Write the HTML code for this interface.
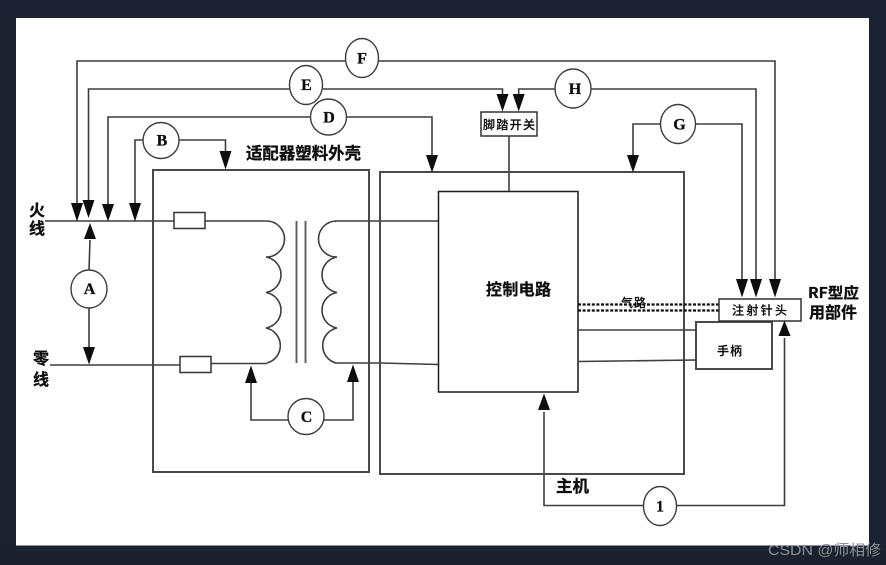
<!DOCTYPE html>
<html lang="zh">
<head>
<meta charset="utf-8">
<style>
html,body{margin:0;padding:0;width:886px;height:565px;overflow:hidden;background:#1b2232}
svg{display:block}
text{font-family:"Liberation Sans","Noto Sans CJK SC",sans-serif;fill:#111}
.c{font-family:"Noto Sans CJK SC","Liberation Sans",sans-serif;font-weight:700;stroke:#111;stroke-width:.3px}
.m{font-family:"Noto Sans CJK SC","Liberation Sans",sans-serif;font-weight:500;stroke:#111;stroke-width:.2px}
.l{font-family:"Liberation Serif",serif;font-weight:700;font-size:16px;text-anchor:middle;stroke:#111;stroke-width:.3px}
</style>
</head>
<body>
<svg width="886" height="565" viewBox="0 0 886 565" xmlns="http://www.w3.org/2000/svg">
<defs><filter id="b" filterUnits="userSpaceOnUse" x="0" y="0" width="886" height="565"><feGaussianBlur stdDeviation="0.35"/></filter></defs>
<rect x="0" y="0" width="886" height="565" fill="#1b2232"/>
<rect x="0" y="545" width="886" height="20" fill="#1b212e"/>
<rect x="16" y="18" width="853" height="527.5" fill="#fff"/>

<g filter="url(#b)">
<g fill="none" stroke="#3c3c3c" stroke-width="1.6">
  <!-- F -->
  <path d="M77 205V61H345M379 61H775V280"/>
  <!-- E / H -->
  <path d="M88.5 202V89H290M323 89H502.5V96"/>
  <path d="M518.7 96V89H555M590 89H756V280"/>
  <!-- D -->
  <path d="M108 206V117H310M346 117H432V157"/>
  <!-- B -->
  <path d="M135 205V140H143M179 140H225.5V153"/>
  <!-- G -->
  <path d="M633 157V124H660M696 124H742V280"/>
  <!-- I -->
  <path d="M544 412V505.5H643M677 505.5H784.5V338"/>
  <!-- A -->
  <path d="M89 270L90 240M89 308V349"/>
  <!-- C -->
  <path d="M251 382V420H288M324 420H353V382"/>
  <!-- Lines -->
  <path d="M45 221H174M205 221H267"/>
  <path d="M50 365H180M211 363.5H267"/>
  <path d="M335 221H438.5M335 363H380L438.5 364.5"/>
  <path d="M509 136V191"/>
  <!-- Coils -->
  <path d="M267 221A18 18 0 0 1 266 257A18 18 0 0 1 266 292.5A18 18 0 0 1 266 328A18 18 0 0 1 267 363" stroke-width="1.6"/>
  <path d="M336 221A18 18 0 0 0 337 257A18 18 0 0 0 337 292.5A18 18 0 0 0 337 328A18 18 0 0 0 336 363" stroke-width="1.6"/>
  <path d="M296.5 221V363M305.5 221V363" stroke="#5c5c5c" stroke-width="1.9"/>
</g>

<!-- Boxes -->
<g fill="none" stroke="#4a4a4a" stroke-width="2">
  <rect x="153" y="170" width="216" height="302"/>
  <rect x="380" y="172" width="304" height="302"/>
  <rect x="696" y="322" width="76" height="47" fill="#fff"/>
</g>
<path d="M578 330H696M578 361.5L696 360" stroke="#3c3c3c" stroke-width="1.6" fill="none"/>
<rect x="438.5" y="191.5" width="139.5" height="200.5" fill="#fff" stroke="#1c1c1c" stroke-width="1.5"/>
<path d="M578 191.5V392" stroke="#484848" stroke-width="1.8"/>
<path d="M578 304.5H719M578 310.5H719" stroke="#111" stroke-width="2.2" stroke-dasharray="3 1.6" fill="none"/>
<g fill="#fff" stroke="#333" stroke-width="1.5">
  <rect x="174" y="212.5" width="31" height="16"/>
  <rect x="180" y="356.5" width="31" height="16"/>
  <rect x="481" y="112" width="56" height="24"/>
  <rect x="719" y="299" width="82" height="22"/>
</g>

<!-- Arrowheads -->
<g fill="#0a0a0a">
  <polygon points="71,203 83,203 77,221.5"/>
  <polygon points="82.5,200 94.5,200 88.5,218"/>
  <polygon points="102,204 114,204 108,221.5"/>
  <polygon points="129,203 141,203 135,221.5"/>
  <polygon points="219.5,151 231.5,151 225.5,169.5"/>
  <polygon points="426,155 438,155 432,172.5"/>
  <polygon points="496.5,94 508.5,94 502.5,111.5"/>
  <polygon points="512.7,94 524.7,94 518.7,111.5"/>
  <polygon points="627,155 639,155 633,172.5"/>
  <polygon points="736,279 748,279 742,297.5"/>
  <polygon points="750,279 762,279 756,297.5"/>
  <polygon points="769,279 781,279 775,297.5"/>
  <polygon points="84,239 96,239 90,223"/>
  <polygon points="83,347 95,347 89,364.5"/>
  <polygon points="245,383 257,383 251,365.5"/>
  <polygon points="347,382 359,382 353,364.5"/>
  <polygon points="538,410 550,410 544,393.5"/>
  <polygon points="778.5,336 790.5,336 784.5,320.5"/>
</g>

<!-- Circles -->
<g fill="#fff" stroke="#3c3c3c" stroke-width="1.4">
  <ellipse cx="362" cy="58" rx="16.5" ry="19.5"/>
  <ellipse cx="306" cy="85" rx="16.5" ry="19.5"/>
  <ellipse cx="328.5" cy="117" rx="18" ry="18"/>
  <ellipse cx="161" cy="140.5" rx="18" ry="18"/>
  <ellipse cx="573" cy="88.5" rx="18" ry="19.5"/>
  <ellipse cx="678" cy="124" rx="17.5" ry="19.5"/>
  <ellipse cx="89" cy="289" rx="18" ry="19"/>
  <ellipse cx="306" cy="416.5" rx="18" ry="18"/>
  <ellipse cx="660" cy="506" rx="16.5" ry="19.5"/>
</g>
<g>
  <text class="l" x="362" y="63.5">F</text>
  <text class="l" x="306.5" y="90">E</text>
  <text class="l" x="329" y="122.5">D</text>
  <text class="l" x="162" y="145.5">B</text>
  <text class="l" x="575" y="94">H</text>
  <text class="l" x="679.5" y="129.5">G</text>
  <text class="l" x="89.5" y="294">A</text>
  <text class="l" x="306.5" y="422">C</text>
  <text class="l" x="660" y="511.5">1</text>
</g>

<!-- Labels -->
<text class="c" x="246" y="159" font-size="16.5" textLength="115" lengthAdjust="spacingAndGlyphs">适配器塑料外壳</text>
<text class="c" x="29" y="216" font-size="16">火</text>
<text class="c" x="29" y="234" font-size="16">线</text>
<text class="c" x="33" y="364" font-size="16">零</text>
<text class="c" x="33" y="385" font-size="16">线</text>
<text class="c" x="486" y="295" font-size="16" textLength="65" lengthAdjust="spacing">控制电路</text>
<text class="c" x="556" y="492" font-size="16.5">主机</text>
<text class="c" x="808" y="298" font-size="15" textLength="51" lengthAdjust="spacingAndGlyphs">RF型应</text>
<text class="c" x="809" y="318" font-size="16" textLength="48" lengthAdjust="spacing">用部件</text>
<text class="m" x="483" y="129" font-size="12" textLength="52" lengthAdjust="spacing">脚踏开关</text>
<text class="m" x="732" y="314.5" font-size="12" textLength="55" lengthAdjust="spacing">注射针头</text>
<text class="m" x="717" y="355" font-size="12" textLength="25" lengthAdjust="spacing">手柄</text>
<text class="m" x="621" y="307" font-size="12" textLength="25" lengthAdjust="spacing">气路</text>
</g>

<text x="768" y="555" font-size="15" style="fill:#8c9096;font-family:'Liberation Sans','Noto Sans CJK SC',sans-serif" textLength="113" lengthAdjust="spacingAndGlyphs">CSDN @师相修</text>
</svg>
</body>
</html>
